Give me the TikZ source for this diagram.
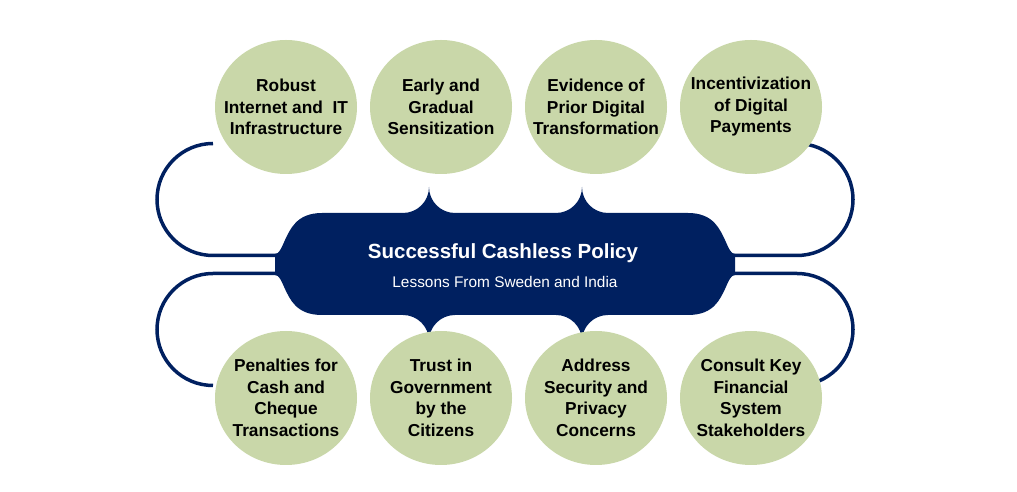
\documentclass[tikz,border=0pt]{standalone}
\usepackage{fontspec}
\setmainfont{Liberation Sans}
\usetikzlibrary{positioning,shapes.geometric}
\definecolor{Navy}{HTML}{002060}
\definecolor{Sage}{HTML}{C9D7A9}

\begin{document}
\begin{tikzpicture}[
  x=1pt,y=1pt,node distance=13pt,
  bubble/.style={ellipse,fill=Sage,minimum width=142pt,minimum height=134pt,
    inner xsep=-17pt,inner ysep=0pt,outer sep=0pt,align=center,
    font=\fontsize{17.3}{21.5}\selectfont\bfseries},
  link/.style={draw=Navy,line width=3.5pt}
]
  \useasboundingbox (0,0) rectangle (1017,492);
  % ends of the connectors
  \coordinate (ltop) at (213,348.5);
  \coordinate (lstemtop) at (277,236.5);
  \coordinate (lstembot) at (277,218.5);
  \coordinate (rstemtop) at (733,236.5);
  \coordinate (rstembot) at (733,218.5);
  \draw[link] (ltop) arc[start angle=90,end angle=270,radius=56] -- (lstemtop);
  \draw[link] (lstembot) -- ++(-64,0) arc[start angle=90,end angle=270,radius=56];
  \draw[link] (rstemtop) -- ++(64,0) arc[start angle=-90,end angle=90,radius=56];
  \draw[link] (rstembot) -- ++(64,0) arc[start angle=90,end angle=-90,radius=56];
  % central banner
  \fill[Navy] (322,279) -- (403,279) arc[start angle=270,end angle=360,radius=26]
    arc[start angle=180,end angle=270,radius=26]
    -- (556,279) arc[start angle=270,end angle=360,radius=26]
    arc[start angle=180,end angle=270,radius=26]
    -- (688,279) .. controls (714,279) and (720,262) .. (725,252)
    .. controls (729,243) and (731,238) .. (735,238) -- (735,217)
    .. controls (731,217) and (729,212) .. (725,203)
    .. controls (720,193) and (714,177) .. (688,177)
    -- (608,177) arc[start angle=90,end angle=180,radius=26]
    arc[start angle=0,end angle=90,radius=26]
    -- (455,177) arc[start angle=90,end angle=180,radius=26]
    arc[start angle=0,end angle=90,radius=26]
    -- (322,177) .. controls (296,177) and (290,193) .. (285,203)
    .. controls (281,212) and (279,217) .. (275,217) -- (275,238)
    .. controls (279,238) and (281,243) .. (285,252)
    .. controls (290,262) and (296,279) .. (322,279) -- cycle;
  \node[anchor=base,text=white,font=\fontsize{20.5}{24}\selectfont\bfseries] (policy) at (503,233) {Successful Cashless Policy};
  \node[anchor=base,text=white,font=\fontsize{15.4}{18}\selectfont] (lessons) at (505,204) {Lessons From Sweden and India};
  % lessons, top row
  \node[bubble] (robust) at (286,385) {Robust\\Internet and~ IT\\Infrastructure};
  \node[bubble,right=of robust] (early) {Early and\\Gradual\\Sensitization};
  \node[bubble,right=of early] (evidence) {Evidence of\\Prior Digital\\Transformation};
  \node[bubble,right=of evidence] (incent) {Incentivization\\of Digital\\Payments};
  % lessons, bottom row
  \node[bubble,below=157pt of robust] (penalty) {Penalties for\\Cash and\\Cheque\\Transactions};
  \node[bubble,right=of penalty] (trust) {Trust in\\Government\\by the\\Citizens};
  \node[bubble,right=of trust] (security) {Address\\Security and\\Privacy\\Concerns};
  \node[bubble,right=of security] (consult) {Consult Key\\Financial\\System\\Stakeholders};
\end{tikzpicture}
\end{document}
